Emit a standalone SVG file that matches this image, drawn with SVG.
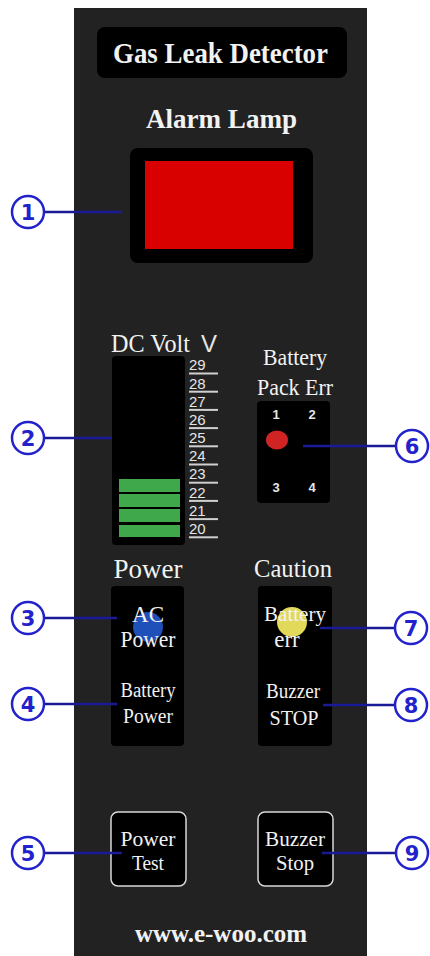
<svg xmlns="http://www.w3.org/2000/svg" width="430" height="956" viewBox="0 0 430 956">
<style>
.serif{font-family:"Liberation Serif","Times New Roman",serif;fill:#f2f2f2}
.b{font-weight:bold}
.sans{font-family:"Liberation Sans",Arial,sans-serif;fill:#e6e6e6}
.box{fill:#000}
.btn{fill:#000;stroke:#d8d8d8;stroke-width:1.5}
.scale{stroke:#d0d0d0;stroke-width:2}
.bar{fill:#3fa84a}
.conn line{stroke:#1a1a96;stroke-width:2.5}
.mk circle{fill:#fff;stroke:#2222cc;stroke-width:2.5}
.mk text{font-family:"DejaVu Sans",Arial,sans-serif;font-weight:bold;font-size:21px;fill:#2222cc;text-anchor:middle}
</style>
<rect width="430" height="956" fill="#fff"/>
<rect id="panel" x="74" y="8" width="293" height="948" fill="#222"/>

<g id="title">
<rect class="box" x="97" y="27" width="250" height="51" rx="8"/>
<text class="serif b" x="113" y="63" font-size="29" textLength="215" lengthAdjust="spacingAndGlyphs">Gas Leak Detector</text>
</g>

<g id="alarm-lamp">
<text class="serif b" x="146" y="128" font-size="28" textLength="151" lengthAdjust="spacingAndGlyphs">Alarm Lamp</text>
<rect class="box" x="130" y="148" width="183" height="115" rx="8"/>
<rect x="145" y="161" width="148" height="88" fill="#d90000"/>
</g>

<g id="dc-volt">
<text class="serif" x="111" y="352" font-size="25" textLength="79" lengthAdjust="spacingAndGlyphs">DC Volt</text>
<text class="sans" x="201" y="352" font-size="24" fill="#f2f2f2" textLength="16" lengthAdjust="spacingAndGlyphs">V</text>
<rect class="box" x="112" y="356" width="73" height="189" rx="4"/>
<rect class="bar" x="119" y="479" width="61" height="13"/>
<rect class="bar" x="119" y="494" width="61" height="13"/>
<rect class="bar" x="119" y="509" width="61" height="13"/>
<rect class="bar" x="119" y="525" width="61" height="12"/>
<g class="sans" font-size="15">
<text x="189" y="370">29</text>
<text x="189" y="388.5">28</text>
<text x="189" y="406.5">27</text>
<text x="189" y="424.5">26</text>
<text x="189" y="443">25</text>
<text x="189" y="461">24</text>
<text x="189" y="479">23</text>
<text x="189" y="497.5">22</text>
<text x="189" y="515.5">21</text>
<text x="189" y="534">20</text>
</g>
<g class="scale">
<line x1="189" y1="373.5" x2="218" y2="373.5"/>
<line x1="189" y1="391.7" x2="218" y2="391.7"/>
<line x1="189" y1="409.9" x2="218" y2="409.9"/>
<line x1="189" y1="428.1" x2="218" y2="428.1"/>
<line x1="189" y1="446.3" x2="218" y2="446.3"/>
<line x1="189" y1="464.5" x2="218" y2="464.5"/>
<line x1="189" y1="482.7" x2="218" y2="482.7"/>
<line x1="189" y1="500.9" x2="218" y2="500.9"/>
<line x1="189" y1="519.1" x2="218" y2="519.1"/>
<line x1="189" y1="537.3" x2="218" y2="537.3"/>
</g>
</g>

<g id="battery-pack">
<text class="serif" x="263" y="365" font-size="24" textLength="64" lengthAdjust="spacingAndGlyphs">Battery</text>
<text class="serif" x="257" y="395" font-size="24" textLength="76" lengthAdjust="spacingAndGlyphs">Pack Err</text>
<rect class="box" x="257" y="401" width="73" height="102" rx="4"/>
<g class="sans b" font-size="13" text-anchor="middle" fill="#fff">
<text x="276" y="419">1</text>
<text x="312" y="419">2</text>
<text x="276" y="492">3</text>
<text x="312" y="492">4</text>
</g>
<ellipse cx="277" cy="440" rx="11" ry="9.5" fill="#d02424"/>
</g>

<g id="power">
<text class="serif" x="148" y="578" font-size="27" text-anchor="middle">Power</text>
<rect class="box" x="111" y="586" width="73" height="160" rx="4"/>
<circle cx="148" cy="627" r="15" fill="#1f4fb8"/>
<text class="serif" x="148" y="622" font-size="23" text-anchor="middle">AC</text>
<text class="serif" x="148" y="647" font-size="23" text-anchor="middle" textLength="55" lengthAdjust="spacingAndGlyphs">Power</text>
<text class="serif" x="148" y="697" font-size="20" text-anchor="middle" textLength="55" lengthAdjust="spacingAndGlyphs">Battery</text>
<text class="serif" x="148" y="723" font-size="20.5" text-anchor="middle" textLength="50" lengthAdjust="spacingAndGlyphs">Power</text>
</g>

<g id="caution">
<text class="serif" x="293" y="577" font-size="26" text-anchor="middle" textLength="78" lengthAdjust="spacingAndGlyphs">Caution</text>
<rect class="box" x="258" y="586" width="74" height="160" rx="4"/>
<circle cx="292" cy="622" r="15" fill="#e2d85a"/>
<text class="serif" x="295" y="621" font-size="22" text-anchor="middle" textLength="62" lengthAdjust="spacingAndGlyphs">Battery</text>
<text class="serif" x="287" y="647" font-size="23" text-anchor="middle">err</text>
<text class="serif" x="293" y="698" font-size="20" text-anchor="middle" textLength="54" lengthAdjust="spacingAndGlyphs">Buzzer</text>
<text class="serif" x="294" y="725" font-size="21" text-anchor="middle" textLength="49" lengthAdjust="spacingAndGlyphs">STOP</text>
</g>

<g id="power-test">
<rect class="btn" x="111" y="812" width="75" height="74" rx="7"/>
<text class="serif" x="148" y="846" font-size="20" text-anchor="middle" textLength="55" lengthAdjust="spacingAndGlyphs">Power</text>
<text class="serif" x="148" y="870" font-size="20" text-anchor="middle" textLength="32" lengthAdjust="spacingAndGlyphs">Test</text>
</g>

<g id="buzzer-stop">
<rect class="btn" x="258" y="812" width="75" height="74" rx="7"/>
<text class="serif" x="295" y="846" font-size="20" text-anchor="middle" textLength="60" lengthAdjust="spacingAndGlyphs">Buzzer</text>
<text class="serif" x="295" y="870" font-size="20" text-anchor="middle" textLength="38" lengthAdjust="spacingAndGlyphs">Stop</text>
</g>

<g id="footer">
<text class="serif b" x="221" y="942" font-size="25" text-anchor="middle">www.e-woo.com</text>
</g>

<g id="connectors" class="conn">
<line x1="44" y1="212" x2="122" y2="212"/>
<line x1="44" y1="438" x2="112" y2="438"/>
<line x1="44" y1="618" x2="117" y2="618"/>
<line x1="44" y1="704" x2="117" y2="704"/>
<line x1="44" y1="853" x2="122" y2="853"/>
<line x1="303" y1="446" x2="397" y2="446"/>
<line x1="320" y1="628" x2="395" y2="628"/>
<line x1="323" y1="705" x2="395" y2="705"/>
<line x1="322" y1="853" x2="396" y2="853"/>
</g>

<g id="m1" class="mk"><circle cx="28" cy="212" r="16"/><text x="28" y="219.5">1</text></g>
<g id="m2" class="mk"><circle cx="28" cy="438" r="16"/><text x="28" y="445.5">2</text></g>
<g id="m3" class="mk"><circle cx="28" cy="618" r="16"/><text x="28" y="625.5">3</text></g>
<g id="m4" class="mk"><circle cx="28" cy="704" r="16"/><text x="28" y="711.5">4</text></g>
<g id="m5" class="mk"><circle cx="28" cy="853" r="16"/><text x="28" y="860.5">5</text></g>
<g id="m6" class="mk"><circle cx="412" cy="446" r="16"/><text x="412" y="453.5">6</text></g>
<g id="m7" class="mk"><circle cx="411" cy="628" r="16"/><text x="411" y="635.5">7</text></g>
<g id="m8" class="mk"><circle cx="411" cy="705" r="16"/><text x="411" y="712.5">8</text></g>
<g id="m9" class="mk"><circle cx="412" cy="853" r="16"/><text x="412" y="860.5">9</text></g>
</svg>
